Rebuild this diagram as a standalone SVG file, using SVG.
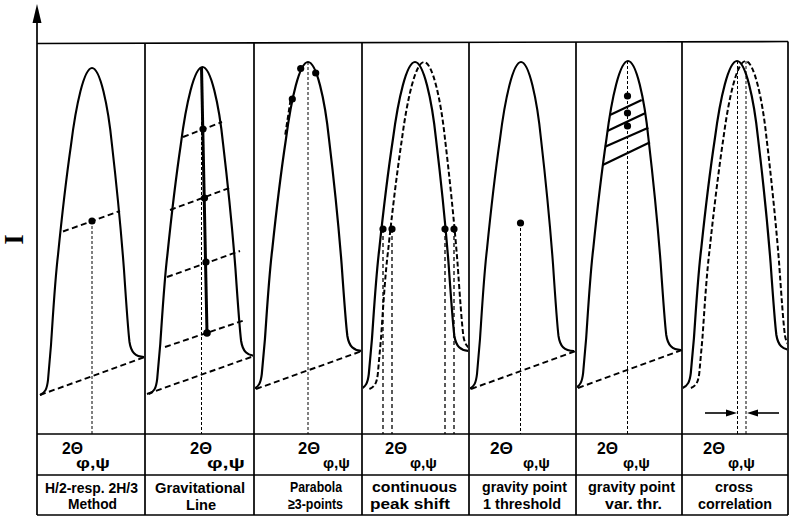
<svg xmlns="http://www.w3.org/2000/svg" width="792" height="522" viewBox="0 0 792 522">
<style>
.fr{fill:none;stroke:#000;stroke-width:1.7}
.pk{fill:none;stroke:#000;stroke-width:2.1}
.pkd{fill:none;stroke:#000;stroke-width:1.9;stroke-dasharray:5 2.5}
.base{fill:none;stroke:#000;stroke-width:1.9;stroke-dasharray:6 3.5}
.dl{fill:none;stroke:#000;stroke-width:1;stroke-dasharray:3 2}
.vd{fill:none;stroke:#000;stroke-width:1.3;stroke-dasharray:4 3}
.thick{stroke:#000;stroke-width:3}
.chord{stroke:#000;stroke-width:2.1}
.pt{fill:#000}
.t2{font-family:"Liberation Sans",Arial,sans-serif;font-weight:bold;font-size:17px;fill:#000}
.sub{font-family:"Liberation Sans",Arial,sans-serif;font-weight:bold;font-size:15px;fill:#000}
.lab{font-family:"Liberation Sans",Arial,sans-serif;font-weight:bold;font-size:15px;fill:#000}
.lab1{font-family:"Liberation Sans",Arial,sans-serif;font-weight:bold;font-size:14px;fill:#000}
.ax{font-family:"Liberation Serif","Times New Roman",serif;font-weight:bold;font-size:27px;fill:#000}
</style>
<defs>
<path id="pk" d="M -52,395 C -47,393 -45,389 -44,380 L -41,345 C -39,315 -37,280 -34,255 C -31,225 -26,180 -21,145 C -16,105 -8,68 0,68 C 8,68 16,105 20,145 C 24,180 29,230 32,270 C 34,300 36,330 37.5,342 C 39,352 43,357 53,357"/>
<clipPath id="c1"><rect x="38" y="44" width="106" height="390"/></clipPath>
<clipPath id="c2"><rect x="146" y="44" width="107" height="390"/></clipPath>
<clipPath id="c3"><rect x="255" y="44" width="106" height="390"/></clipPath>
<clipPath id="c4"><rect x="363" y="44" width="105" height="390"/></clipPath>
<clipPath id="c5"><rect x="470" y="44" width="105" height="390"/></clipPath>
<clipPath id="c6"><rect x="577" y="44" width="104" height="390"/></clipPath>
<clipPath id="c7"><rect x="683" y="44" width="104" height="390"/></clipPath>
</defs>

<g id="frame">
<line class="fr" x1="37" y1="43.5" x2="788" y2="41.5"/>
<line class="fr" x1="37" y1="20" x2="37" y2="515"/>
<polygon points="37,4 32.5,23 41.5,23" fill="#000"/>
<line class="fr" x1="145" y1="43" x2="145" y2="515"/>
<line class="fr" x1="254" y1="43" x2="254" y2="515"/>
<line class="fr" x1="362" y1="43" x2="362" y2="515"/>
<line class="fr" x1="469" y1="42" x2="469" y2="515"/>
<line class="fr" x1="576" y1="42" x2="576" y2="515"/>
<line class="fr" x1="682" y1="42" x2="682" y2="515"/>
<line class="fr" x1="788" y1="41.5" x2="788" y2="515"/>
<line class="fr" x1="37" y1="434" x2="788" y2="434"/>
<line class="fr" x1="37" y1="475" x2="788" y2="475"/>
<line class="fr" x1="37" y1="515" x2="788" y2="515"/>
<text class="ax" transform="translate(23,239.5) rotate(-90)" text-anchor="middle">I</text>
</g>

<g id="panel-1">
<g clip-path="url(#c1)"><use href="#pk" class="pk" transform="translate(92,0)"/></g>
<line class="base" x1="40" y1="395" x2="145" y2="357"/>
<line class="base" x1="63" y1="231.5" x2="120" y2="211"/>
<line class="dl" x1="92" y1="221" x2="92" y2="434"/>
<circle class="pt" cx="92" cy="221" r="3.6"/>
</g>

<g id="panel-2">
<g clip-path="url(#c2)"><use href="#pk" class="pk" transform="translate(202.5,-1) scale(1.03,1)"/></g>
<line class="base" x1="147" y1="394" x2="254" y2="356"/>
<line class="base" x1="183" y1="137" x2="222" y2="122"/>
<line class="base" x1="170" y1="210" x2="232" y2="187"/>
<line class="base" x1="167" y1="277" x2="240" y2="251"/>
<line class="base" x1="165" y1="347" x2="245" y2="320"/>
<line class="dl" x1="201.5" y1="67" x2="201.5" y2="434"/>
<line class="thick" x1="201.5" y1="67" x2="207" y2="333"/>
<circle class="pt" cx="203" cy="129" r="3.6"/>
<circle class="pt" cx="204.5" cy="198" r="3.6"/>
<circle class="pt" cx="206" cy="262" r="3.6"/>
<circle class="pt" cx="207" cy="333" r="3.8"/>
</g>

<g id="panel-3">
<g clip-path="url(#c3)"><use href="#pk" class="pk" transform="translate(308,-6) scale(1.05,1)"/></g>
<line class="base" x1="256" y1="389" x2="362" y2="351"/>
<line class="dl" x1="308" y1="62" x2="308" y2="434"/>
<line class="pkd" x1="290.5" y1="100" x2="285" y2="136"/>
<circle class="pt" cx="300.7" cy="68.5" r="3.6"/>
<circle class="pt" cx="315.7" cy="73" r="3.6"/>
<circle class="pt" cx="292.3" cy="99" r="3.6"/>
</g>

<g id="panel-4">
<g clip-path="url(#c4)">
<use href="#pk" class="pk" transform="translate(415,-6) scale(1.05,1)"/>
<use href="#pk" class="pkd" transform="translate(424,-6) scale(1.05,1)"/>
</g>
<line class="vd" x1="383" y1="229" x2="383" y2="434"/>
<line class="vd" x1="392" y1="229" x2="392" y2="434"/>
<line class="vd" x1="445" y1="229" x2="445" y2="434"/>
<line class="vd" x1="454" y1="229" x2="454" y2="434"/>
<circle class="pt" cx="383" cy="229" r="3.6"/>
<circle class="pt" cx="392" cy="229" r="3.6"/>
<circle class="pt" cx="445" cy="229" r="3.6"/>
<circle class="pt" cx="454" cy="229" r="3.6"/>
</g>

<g id="panel-5">
<g clip-path="url(#c5)"><use href="#pk" class="pk" transform="translate(521,-6)"/></g>
<line class="base" x1="471" y1="389" x2="576" y2="351"/>
<line class="dl" x1="520.5" y1="223" x2="520.5" y2="434"/>
<circle class="pt" cx="520.5" cy="223" r="3.6"/>
</g>

<g id="panel-6">
<g clip-path="url(#c6)"><use href="#pk" class="pk" transform="translate(628,-7) scale(1.02,1)"/></g>
<line class="base" x1="578" y1="388" x2="682" y2="350"/>
<line class="dl" x1="627.5" y1="61" x2="627.5" y2="434"/>
<line class="chord" x1="610" y1="115" x2="641.7" y2="100"/>
<line class="chord" x1="607.3" y1="131" x2="645" y2="113.3"/>
<line class="chord" x1="605" y1="146.7" x2="648.3" y2="127.7"/>
<line class="chord" x1="602.7" y1="165" x2="650" y2="142.3"/>
<circle class="pt" cx="627.5" cy="96" r="3.6"/>
<circle class="pt" cx="627.5" cy="113" r="3.6"/>
<circle class="pt" cx="627.5" cy="126" r="3.6"/>
</g>

<g id="panel-7">
<g clip-path="url(#c7)">
<use href="#pk" class="pk" transform="translate(737,-7) scale(1.05,1)"/>
<use href="#pk" class="pkd" transform="translate(745.5,-7) scale(1.05,1)"/>
</g>
<line class="dl" x1="737.5" y1="61" x2="737.5" y2="434"/>
<line class="dl" x1="746" y1="61" x2="746" y2="434"/>
</g>

<g id="connectors">
<line x1="705" y1="413" x2="728" y2="413" stroke="#000" stroke-width="1.6"/>
<polygon points="737,413 726,409.5 726,416.5" fill="#000"/>
<line x1="779" y1="413" x2="756" y2="413" stroke="#000" stroke-width="1.6"/>
<polygon points="747,413 758,409.5 758,416.5" fill="#000"/>
</g>

<g id="table">
<text class="t2" x="62" y="454" textLength="21" lengthAdjust="spacingAndGlyphs">2Θ</text>
<text class="sub" x="76" y="468" textLength="34" lengthAdjust="spacingAndGlyphs">φ,ψ</text>
<text class="t2" x="190" y="454" textLength="22" lengthAdjust="spacingAndGlyphs">2Θ</text>
<text class="sub" x="207" y="468" textLength="38" lengthAdjust="spacingAndGlyphs">φ,ψ</text>
<text class="t2" x="298" y="454" textLength="22" lengthAdjust="spacingAndGlyphs">2Θ</text>
<text class="sub" x="323" y="468" textLength="27" lengthAdjust="spacingAndGlyphs">φ,ψ</text>
<text class="t2" x="385" y="454" textLength="22" lengthAdjust="spacingAndGlyphs">2Θ</text>
<text class="sub" x="410" y="468" textLength="27" lengthAdjust="spacingAndGlyphs">φ,ψ</text>
<text class="t2" x="490" y="454" textLength="23" lengthAdjust="spacingAndGlyphs">2Θ</text>
<text class="sub" x="523" y="468" textLength="27" lengthAdjust="spacingAndGlyphs">φ,ψ</text>
<text class="t2" x="597" y="453.5" textLength="21" lengthAdjust="spacingAndGlyphs">2Θ</text>
<text class="sub" x="623" y="467.5" textLength="27" lengthAdjust="spacingAndGlyphs">φ,ψ</text>
<text class="t2" x="703" y="453.5" textLength="22" lengthAdjust="spacingAndGlyphs">2Θ</text>
<text class="sub" x="728" y="467.5" textLength="27" lengthAdjust="spacingAndGlyphs">φ,ψ</text>

<text class="lab1" x="45" y="493" textLength="93" lengthAdjust="spacingAndGlyphs">H/2-resp. 2H/3</text>
<text class="lab1" x="68" y="509" textLength="49" lengthAdjust="spacingAndGlyphs">Method</text>
<text class="lab" x="155" y="492.5" textLength="90" lengthAdjust="spacingAndGlyphs">Gravitational</text>
<text class="lab" x="186" y="509.5" textLength="30" lengthAdjust="spacingAndGlyphs">Line</text>
<text class="lab" x="290" y="492" textLength="52" lengthAdjust="spacingAndGlyphs">Parabola</text>
<text class="lab" x="288" y="509" textLength="55" lengthAdjust="spacingAndGlyphs">≥3-points</text>
<text class="lab" x="372" y="491.5" textLength="85" lengthAdjust="spacingAndGlyphs">continuous</text>
<text class="lab" x="370" y="508.5" textLength="80" lengthAdjust="spacingAndGlyphs">peak shift</text>
<text class="lab" x="482" y="491.5" textLength="85" lengthAdjust="spacingAndGlyphs">gravity point</text>
<text class="lab" x="483" y="508.5" textLength="78" lengthAdjust="spacingAndGlyphs">1 threshold</text>
<text class="lab" x="588" y="491.5" textLength="87" lengthAdjust="spacingAndGlyphs">gravity point</text>
<text class="lab" x="605" y="508.5" textLength="57" lengthAdjust="spacingAndGlyphs">var. thr.</text>
<text class="lab" x="715" y="491.5" textLength="38" lengthAdjust="spacingAndGlyphs">cross</text>
<text class="lab" x="698" y="508.5" textLength="74" lengthAdjust="spacingAndGlyphs">correlation</text>
</g>
</svg>
